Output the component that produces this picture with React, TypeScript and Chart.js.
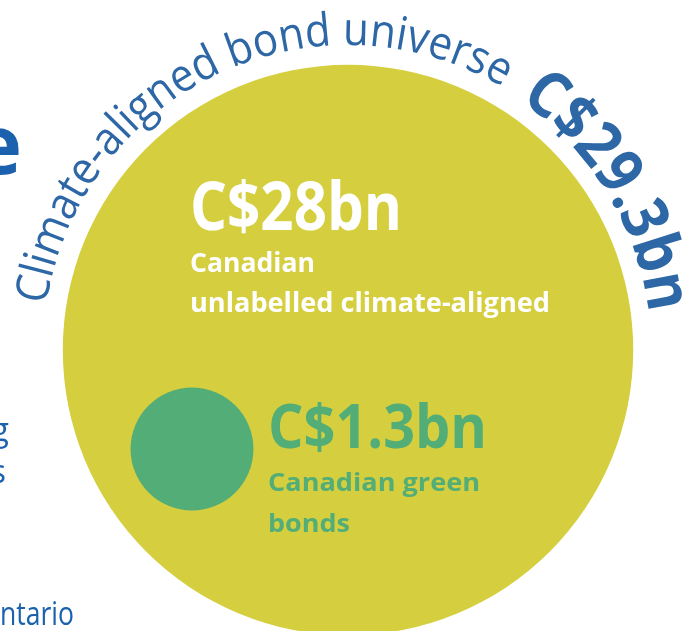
import React, { useEffect, useRef } from "react";
import { Chart, registerables } from "chart.js";

Chart.register(...registerables);

// ---- data ----
const categories = ["Canadian unlabelled climate-aligned", "Canadian green bonds"];
const valuesBn = [28, 1.3];
const universeTitle = "Climate-aligned bond universe";
const categoryLines = [["Canadian", "unlabelled climate-aligned"], ["Canadian green", "bonds"]];
const sideFragments = ["e", "g", "s", "ntario"];

const fmt = (v: number) => `C$${Number.isInteger(v) ? v : v.toFixed(1)}bn`;

// ---- layout / style ----
const W = 682;
const H = 631;
const BIG = { x: 348, y: 350 };
const SMALL = { x: 192, y: 449 };
const K = 53.9; // px per sqrt(bn)
const YELLOW = "#d5cf40";
const GREEN = "#53ad77";
const BLUE = "#2d67a5";
const BLUE2 = "#1b61ad";
const FAMILY = "'Open Sans', 'DejaVu Sans', sans-serif";

function drawFit(
  ctx: CanvasRenderingContext2D,
  text: string,
  x: number,
  y: number,
  targetW: number,
  size: number,
  weight: number,
  color: string
) {
  ctx.save();
  ctx.font = `${weight} ${size}px ${FAMILY}`;
  ctx.fillStyle = color;
  ctx.textAlign = "left";
  ctx.textBaseline = "alphabetic";
  const w = ctx.measureText(text).width;
  ctx.translate(x, y);
  ctx.scale(targetW / w, 1);
  ctx.fillText(text, 0, 0);
  ctx.restore();
}

function arcText(
  ctx: CanvasRenderingContext2D,
  text: string,
  cx: number,
  cy: number,
  R: number,
  startDeg: number,
  endDeg: number,
  size: number,
  weight: number,
  color: string
) {
  ctx.save();
  ctx.font = `${weight} ${size}px ${FAMILY}`;
  ctx.fillStyle = color;
  ctx.textAlign = "center";
  ctx.textBaseline = "alphabetic";
  const natural = ctx.measureText(text).width;
  const arcLen = ((endDeg - startDeg) * Math.PI) / 180 * R;
  const s = arcLen / natural;
  const a0 = (startDeg * Math.PI) / 180;
  for (let i = 0; i < text.length; i++) {
    const w0 = ctx.measureText(text.slice(0, i)).width;
    const w1 = ctx.measureText(text.slice(0, i + 1)).width;
    const mid = ((w0 + w1) / 2) * s;
    const ang = a0 + mid / R;
    ctx.save();
    ctx.translate(cx + R * Math.cos(ang), cy + R * Math.sin(ang));
    ctx.rotate(ang + Math.PI / 2);
    ctx.scale(s, 1);
    ctx.fillText(text[i], 0, 0);
    ctx.restore();
  }
  ctx.restore();
}

const textPlugin = {
  id: "infographicText",
  afterDatasetsDraw(chart: any) {
    const ctx: CanvasRenderingContext2D = chart.ctx;
    const xs = chart.scales.x;
    const ys = chart.scales.y;
    const bx = xs.getPixelForValue(BIG.x);
    const by = ys.getPixelForValue(BIG.y);
    const total = valuesBn.reduce((a, b) => a + b, 0);

    // curved title
    arcText(ctx, universeTitle, bx, by, 305, 188.5, 300.5, 46, 400, BLUE);
    arcText(ctx, fmt(total), bx, by, 303, 304.5, 353, 64, 700, BLUE);

    // big bubble labels
    drawFit(ctx, fmt(valuesBn[0]), 190, 230, 212, 66, 700, "#ffffff");
    drawFit(ctx, categoryLines[0][0], 190, 272, 125, 26, 700, "#ffffff");
    drawFit(ctx, categoryLines[0][1], 190, 312, 360, 26, 700, "#ffffff");

    // small bubble labels
    drawFit(ctx, fmt(valuesBn[1]), 268, 448, 219, 60, 700, GREEN);
    drawFit(ctx, categoryLines[1][0], 268, 491, 212, 25, 700, GREEN);
    drawFit(ctx, categoryLines[1][1], 268, 532, 82, 25, 700, GREEN);

    // fragments of neighbouring text at the left edge
    ctx.save();
    ctx.fillStyle = BLUE2;
    ctx.textAlign = "right";
    ctx.textBaseline = "alphabetic";
    ctx.font = `700 83px ${FAMILY}`;
    ctx.fillText(sideFragments[0], 22, 174);
    ctx.font = `400 33px ${FAMILY}`;
    ctx.fillText(sideFragments[1], 9, 441);
    ctx.fillText(sideFragments[2], 6, 483);
    ctx.restore();
    drawFit(ctx, sideFragments[3], 0, 625, 74, 32, 400, BLUE2);
  },
};

export default function App() {
  const ref = useRef<HTMLCanvasElement | null>(null);
  useEffect(() => {
    if (!ref.current) return;
    const chart = new Chart(ref.current, {
      type: "bubble",
      data: {
        labels: categories,
        datasets: [
          {
            label: "Climate-aligned bonds",
            data: [
              { x: BIG.x, y: BIG.y, r: K * Math.sqrt(valuesBn[0]) },
              { x: SMALL.x, y: SMALL.y, r: K * Math.sqrt(valuesBn[1]) },
            ],
            backgroundColor: [YELLOW, GREEN],
            borderWidth: 0,
            hoverRadius: 0,
            clip: false as any,
          } as any,
        ],
      },
      options: {
        animation: false,
        responsive: false,
        devicePixelRatio: 1,
        events: [],
        layout: { padding: 0, autoPadding: false } as any,
        scales: {
          x: { type: "linear", min: 0, max: W, display: false },
          y: { type: "linear", min: 0, max: H, reverse: true, display: false },
        },
        plugins: { legend: { display: false }, tooltip: { enabled: false } },
      },
      plugins: [textPlugin],
    });
    return () => chart.destroy();
  }, []);
  return (
    <div style={{ position: "absolute", left: 0, top: 0, width: W, height: H, background: "#fff" }}>
      <canvas ref={ref} width={W} height={H} style={{ display: "block" }} />
    </div>
  );
}
